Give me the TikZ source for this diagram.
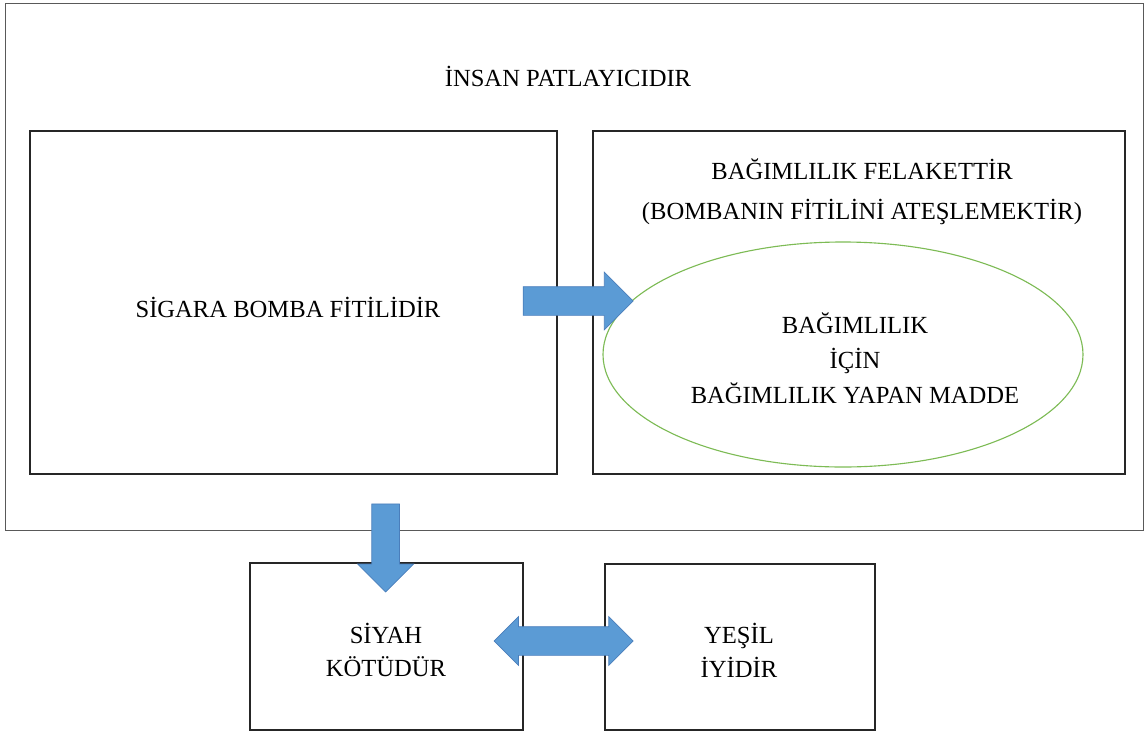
\documentclass[tikz,border=0pt]{standalone}
\usepackage{fontspec}
\setmainfont{Liberation Serif}
\usetikzlibrary{shapes.geometric,shapes.arrows}
\definecolor{arrowblue}{HTML}{5B9BD5}
\definecolor{arrowedge}{HTML}{4A7EBB}
\definecolor{ringgreen}{HTML}{7DBB55}
\tikzset{tight/.style={inner sep=2pt},
  box/.style={draw=black!85, line width=1.1pt, rectangle},
  label/.style={font=\fontsize{17.5}{25}\selectfont, align=center},
  blockarrow/.style={fill=arrowblue, draw=arrowedge, line width=0.5pt,
    inner xsep=0pt, inner ysep=0.35cm}}

\begin{document}
\begin{tikzpicture}[style=tight]
          \useasboundingbox (0, 0) rectangle (28.625, -18.325);
          \node at (14.35, -6.6625) [draw=black!65, line width=0.7pt, rectangle,
            minimum width=28.45cm, minimum height=13.175cm] (human) {};
          \node at (14.2, -1.9) [label] (humantext) {İNSAN PATLAYICIDIR};

          \node at (7.3375, -7.5625) [box, minimum width=13.175cm, minimum height=8.575cm] (cigarette) {};
          \node at (7.2, -7.675) [label] (cigarettetext) {SİGARA BOMBA FİTİLİDİR};

          \node at (21.475, -7.5625) [box, minimum width=13.3cm, minimum height=8.575cm] (addiction) {};
          \node at (21.55, -4.8) [label, font=\fontsize{17.5}{28.5}\selectfont] (addictiontext)
            {BAĞIMLILIK FELAKETTİR\\(BOMBANIN FİTİLİNİ ATEŞLEMEKTİR)};
          \node at (21.075, -8.8625) [draw=ringgreen, line width=0.8pt, ellipse,
            minimum width=12cm, minimum height=5.625cm] (substance) {};
          \node at (21.375, -8.95) [label] (substancetext)
            {BAĞIMLILIK\\İÇİN\\BAĞIMLILIK YAPAN MADDE};

          \node at (9.6625, -16.1625) [box, minimum width=6.825cm, minimum height=4.175cm] (black) {};
          \node at (9.65, -16.25) [label, font=\fontsize{17.5}{24}\selectfont] (blacktext) {SİYAH\\KÖTÜDÜR};
          \node at (18.5, -16.175) [box, minimum width=6.75cm, minimum height=4.15cm] (green) {};
          \node at (18.475, -16.25) [label, font=\fontsize{17.5}{24}\selectfont] (greentext) {YEŞİL\\İYİDİR};

          % block arrows
          \node at (14.275, -7.525) [blockarrow, single arrow, single arrow head extend=0.3625cm,
            minimum height=2.75cm] (fuse) {};
          \node at (9.64, -13.525) [blockarrow, single arrow, shape border rotate=270,
            inner xsep=0.3375cm, inner ysep=0pt, single arrow head extend=0.35cm,
            minimum height=2.2cm] (down) {};
          \node at (14.09, -16.025) [blockarrow, double arrow, double arrow head extend=0.25cm,
            minimum height=3.475cm] (versus) {};
        \end{tikzpicture}
\end{document}
